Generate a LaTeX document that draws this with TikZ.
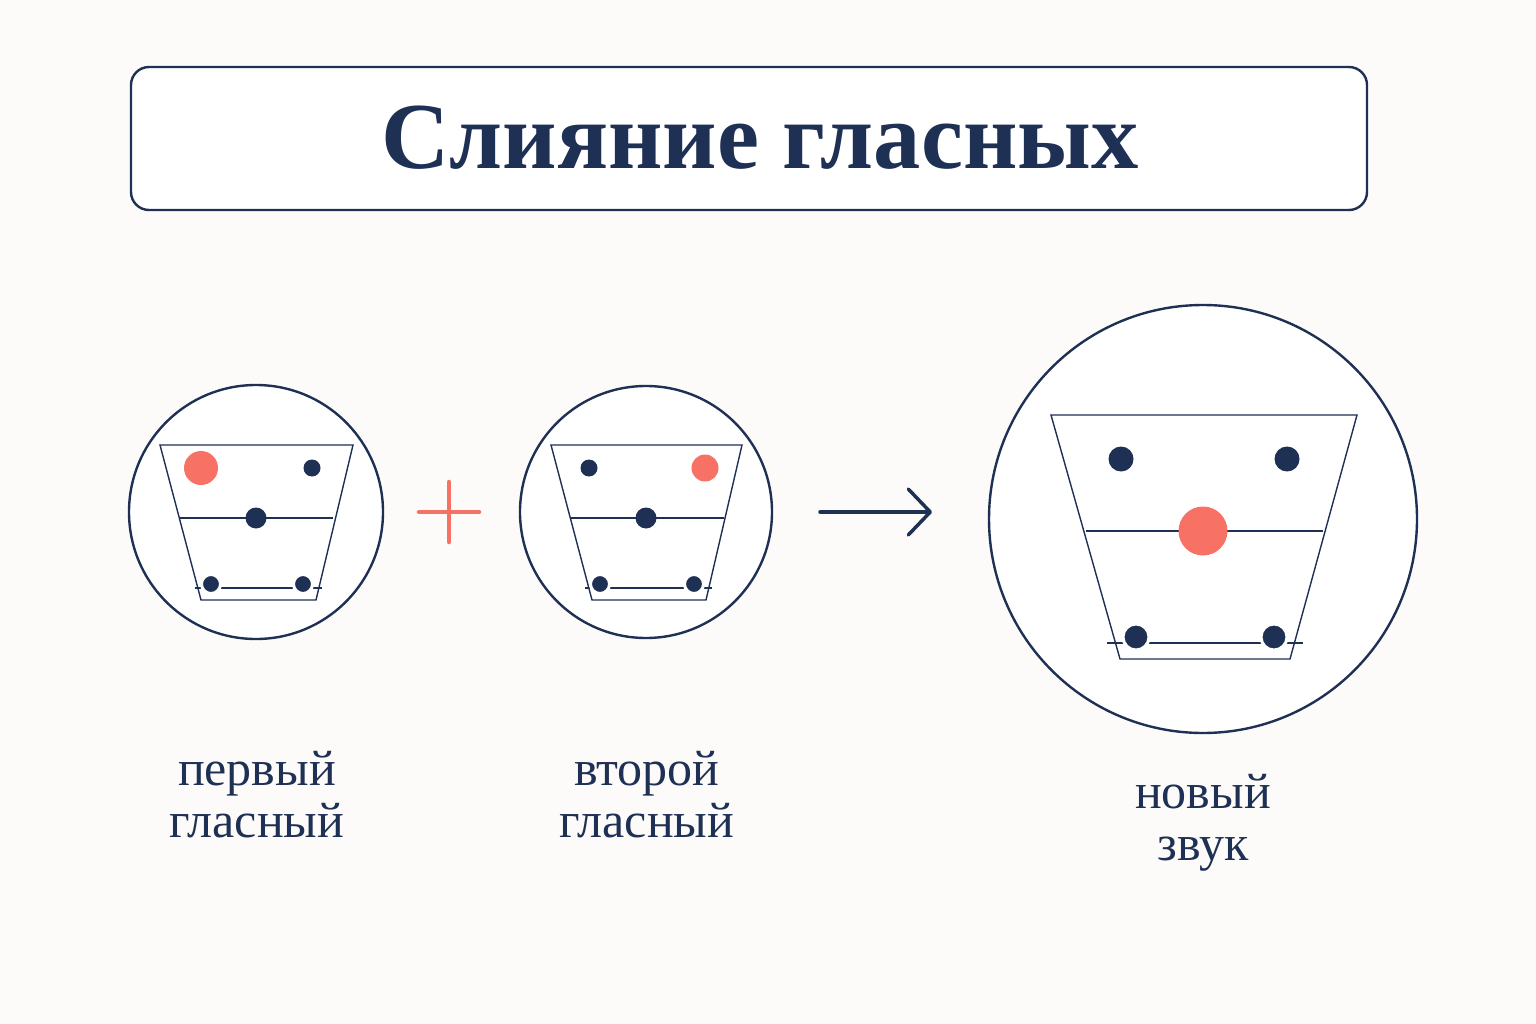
\documentclass[tikz,border=0pt]{standalone}
\usepackage{fontspec}
\setmainfont{Liberation Serif}
\usetikzlibrary{arrows.meta}
\definecolor{navy}{HTML}{1F3055}
\definecolor{coral}{HTML}{F77264}
\definecolor{paper}{HTML}{FCFBF9}

\begin{document}
\begin{tikzpicture}
[x=1pt,y=-1pt,%
  ring/.style={shape=circle,draw=navy,line width=2.4pt,fill=white,inner sep=0pt,minimum size=#1},%
  vdot/.style={shape=circle,fill=navy,inner sep=0pt,minimum size=#1},%
  rdot/.style={shape=circle,fill=coral,inner sep=0pt,minimum size=#1},%
  halo/.style={draw=white,line width=3pt},%
  thin/.style={draw=navy,line width=1.4pt},%
  caption/.style={align=center,text=navy,font=\fontsize{50}{52}\selectfont}]
\fill[paper] (0,0) rectangle (1536,1024);
\useasboundingbox (0,0) rectangle (1536,1024);
%% title
\draw[navy,line width=2.4pt,rounded corners=18pt,fill=white] (131,67) rectangle (1367,210);
\node[text=navy,font=\fontsize{94.5}{100}\selectfont\bfseries] (title) at (760,138) {Слияние гласных};
%% first vowel
\node[ring=254pt] (first) at (256,512) {};
\draw[thin] (160,445) -- (353,445) -- (316,600) -- (201,600) -- cycle;
\draw[thin] (180,518) -- (333,518);
\draw[thin] (195,588) -- (322,588);
\node[rdot=34pt] (f1) at (201,468) {};
\node[vdot=17pt] (f2) at (312,468) {};
\node[vdot=21pt] (f3) at (256,518) {};
\node[vdot=19pt,halo] (f4) at (211,584) {};
\node[vdot=19pt,halo] (f5) at (303,584) {};
%% second vowel
\node[ring=252pt] (second) at (646,512) {};
\draw[thin] (551,445) -- (742,445) -- (706,600) -- (592,600) -- cycle;
\draw[thin] (570,518) -- (724,518);
\draw[thin] (585,588) -- (712,588);
\node[vdot=17pt] (s1) at (589,468) {};
\node[rdot=27pt] (s2) at (705,468) {};
\node[vdot=21pt] (s3) at (646,518) {};
\node[vdot=19pt,halo] (s4) at (600,584) {};
\node[vdot=19pt,halo] (s5) at (694,584) {};
%% new sound
\node[ring=428pt] (result) at (1203,519) {};
\draw[thin] (1051,415) -- (1357,415) -- (1290,659) -- (1120,659) -- cycle;
\draw[thin] (1086,531) -- (1323,531);
\draw[thin] (1107,643) -- (1303,643);
\node[vdot=25pt] (n1) at (1121,459) {};
\node[vdot=25pt] (n2) at (1287,459) {};
\node[rdot=49pt] (n3) at (1203,531) {};
\node[vdot=26pt,halo] (n4) at (1136,637) {};
\node[vdot=26pt,halo] (n5) at (1274,637) {};
%% plus and arrow
\coordinate (plus) at (449,512);
\draw[coral,line width=4.5pt,line cap=round] ([yshift=30pt]plus) -- ([yshift=-30pt]plus);
\draw[coral,line width=4.5pt,line cap=round] ([xshift=-30pt]plus) -- ([xshift=30pt]plus);
\coordinate (from) at (820,512);
\coordinate (to) at (932,512);
\draw[navy,line width=3.5pt,line cap=round,-{Straight Barb[length=22pt,width=46pt,round]}] (from) -- (to);
%% captions
\node[caption] (cap1) at (257,795) {первый\\гласный};
\node[caption] (cap2) at (647,795) {второй\\гласный};
\node[caption] (cap3) at (1203,823) {новый\\звук};
\end{tikzpicture}
\end{document}
